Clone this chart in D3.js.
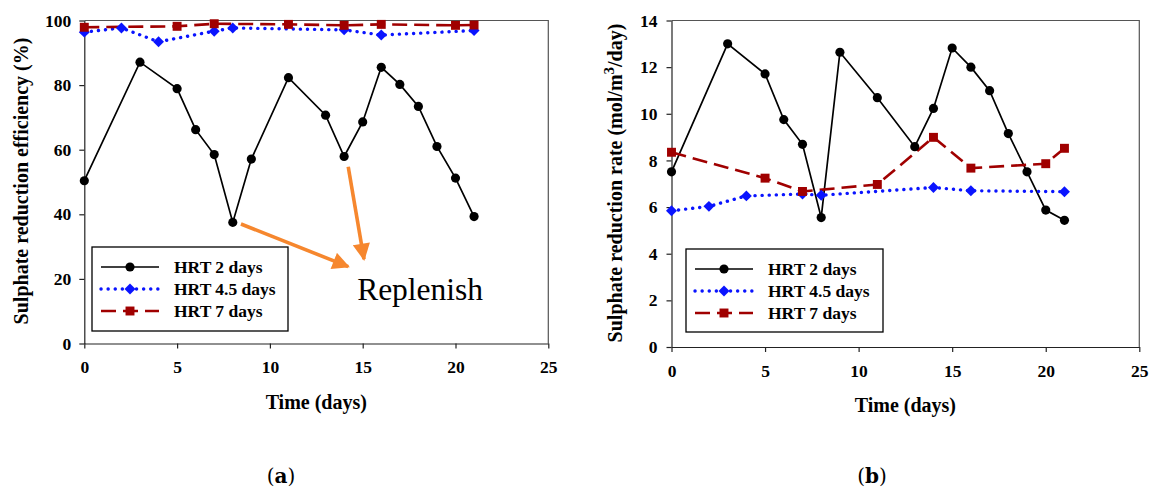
<!DOCTYPE html>
<html>
<head>
<meta charset="utf-8">
<script src="https://cdn.jsdelivr.net/npm/d3@7"></script>
<style>
  html, body { margin: 0; padding: 0; background: #fff; }
  svg { display: block; }
  text { font-family: "Liberation Serif", "Times New Roman", serif; }
</style>
</head>
<body>
<svg id="chart" width="1155" height="492"></svg>
<script>
// sampling days for each series
const daysHRT2 = [0, 3, 5, 6, 7, 8, 9, 11, 13, 14, 15, 16, 17, 18, 19, 20, 21];
const daysHRT45 = [0, 2, 4, 7, 8, 14, 16, 21];
const daysHRT7 = [0, 5, 7, 11, 14, 16, 20, 21];

// (a) sulphate reduction efficiency (%)
const effHRT2 = [50.4, 87.1, 78.9, 66.2, 58.5, 37.5, 57.1, 82.3, 70.7, 57.9, 68.6, 85.5, 80.2, 73.4, 61.0, 51.2, 39.3];
const effHRT45 = [96.4, 97.7, 93.4, 96.7, 97.7, 97.1, 95.5, 96.9];
const effHRT7 = [97.9, 98.2, 99.0, 98.8, 98.5, 98.8, 98.5, 98.6];

// (b) sulphate reduction rate (mol/m3/day)
const rateHRT2 = [7.51, 13.0, 11.71, 9.75, 8.69, 5.55, 12.64, 10.69, 8.59, 10.23, 12.82, 12.0, 10.99, 9.15, 7.51, 5.87, 5.43];
const rateHRT45 = [5.84, 6.03, 6.48, 6.56, 6.51, 6.84, 6.70, 6.66];
const rateHRT7 = [8.35, 7.24, 6.67, 6.97, 8.99, 7.67, 7.86, 8.52];

const seriesNames = ["HRT 2 days", "HRT 4.5 days", "HRT 7 days"];
const xTicks = [0, 5, 10, 15, 20, 25];
const effTicks = [0, 20, 40, 60, 80, 100];
const rateTicks = [0, 2, 4, 6, 8, 10, 12, 14];

// replenish arrows in (day, %) units: [x1, y1, x2, y2]
const replenishArrows = [[8.44, 37.0, 14.22, 23.8], [14.22, 54.7, 15.07, 26.1]];

const styles = [
  { color: "#000", width: 1.7, dash: null, cap: "butt", symbol: d3.symbolCircle, size: 66, rot: 0 },
  { color: "#0a14ff", width: 3.4, dash: "0.1 7", cap: "round", symbol: d3.symbolSquare, size: 60, rot: 45 },
  { color: "#a00000", width: 2.6, dash: "15 7", cap: "butt", symbol: d3.symbolSquare, size: 80, rot: 0 }
];

const svg = d3.select("#chart");

function drawPanel(p) {
  const x = d3.scaleLinear().domain([0, 25]).range([p.left, p.right]);
  const y = d3.scaleLinear().domain(p.yDomain).range([p.bottom, p.top]);
  const g = svg.append("g");

  // frame (top / right)
  g.append("path")
    .attr("d", `M${p.left},${p.top}H${p.right}V${p.bottom}`)
    .attr("fill", "none").attr("stroke", "#555").attr("stroke-width", 1.2);

  const xAxis = g.append("g")
    .attr("transform", `translate(0,${p.bottom})`)
    .call(d3.axisBottom(x).tickValues(xTicks).tickSize(5).tickPadding(12.5).tickSizeOuter(0));
  const yAxis = g.append("g")
    .attr("transform", `translate(${p.left},0)`)
    .call(d3.axisLeft(y).tickValues(p.yTicks).tickSize(5).tickPadding(p.yPad).tickSizeOuter(0));
  [xAxis, yAxis].forEach(a => {
    a.selectAll("path, line").attr("stroke", "#222").attr("stroke-width", 1.2);
    a.selectAll("text").attr("fill", "#000")
      .style("font-family", "Liberation Serif").style("font-weight", "bold").style("font-size", "17.5px");
  });

  // series
  p.series.forEach((s, i) => {
    const st = styles[i];
    const pts = s.days.map((d, k) => [d, s.values[k]]);
    g.append("path")
      .datum(pts)
      .attr("fill", "none")
      .attr("stroke", st.color)
      .attr("stroke-width", st.width)
      .attr("stroke-dasharray", st.dash)
      .attr("stroke-linecap", st.cap)
      .attr("d", d3.line().x(d => x(d[0])).y(d => y(d[1])));
  });
  p.series.forEach((s, i) => {
    const st = styles[i];
    g.selectAll(null)
      .data(s.days.map((d, k) => [d, s.values[k]]))
      .enter().append("path")
      .attr("d", d3.symbol().type(st.symbol).size(st.size))
      .attr("transform", d => `translate(${x(d[0])},${y(d[1])}) rotate(${st.rot})`)
      .attr("fill", st.color);
  });

  // legend
  const lg = g.append("g").attr("transform", `translate(${p.legend[0]},${p.legend[1]})`);
  lg.append("rect").attr("width", p.legend[2]).attr("height", p.legend[3])
    .attr("fill", "#fff").attr("stroke", "#000").attr("stroke-width", 1.3);
  seriesNames.forEach((name, i) => {
    const st = styles[i];
    const ry = 20 + i * 22;
    lg.append("line").attr("x1", 9).attr("x2", 67).attr("y1", ry).attr("y2", ry)
      .attr("stroke", st.color).attr("stroke-width", st.width)
      .attr("stroke-dasharray", st.dash).attr("stroke-linecap", st.cap);
    lg.append("path").attr("d", d3.symbol().type(st.symbol).size(st.size))
      .attr("transform", `translate(38,${ry}) rotate(${st.rot})`).attr("fill", st.color);
    lg.append("text").attr("x", 82).attr("y", ry + 6)
      .style("font-weight", "bold").style("font-size", "17.5px").text(name);
  });

  // axis titles
  g.append("text")
    .attr("x", (p.left + p.right) / 2).attr("y", p.bottom + 65)
    .attr("text-anchor", "middle")
    .style("font-weight", "bold").style("font-size", "20px")
    .text("Time (days)");
  const yt = g.append("text")
    .attr("transform", `translate(${p.yTitleX},${p.yTitleY}) rotate(-90)`)
    .attr("text-anchor", "middle")
    .style("font-weight", "bold").style("font-size", "20px");
  p.yTitle(yt);

  // panel label
  const lab = g.append("text")
    .attr("x", p.labelX).attr("y", 483)
    .attr("text-anchor", "middle")
    .style("font-family", "'DejaVu Serif', serif").style("font-size", "20px");
  lab.append("tspan").text("(");
  lab.append("tspan").style("font-weight", "bold").text(p.label);
  lab.append("tspan").text(")");

  return { g, x, y };
}

// (a)
const a = drawPanel({
  left: 84.3, right: 548.3, top: 20.5, bottom: 343.5,
  yDomain: [0, 100], yTicks: effTicks, yPad: 8,
  series: [
    { days: daysHRT2, values: effHRT2 },
    { days: daysHRT45, values: effHRT45 },
    { days: daysHRT7, values: effHRT7 }
  ],
  legend: [92, 247, 196, 84],
  yTitleX: 27.5, yTitleY: 181,
  yTitle: t => t.text("Sulphate reduction efficiency (%)"),
  labelX: 281, label: "a"
});

// replenish annotation
const arrowColor = "#f6872e";
const defs = svg.append("defs");
defs.append("marker")
  .attr("id", "head").attr("viewBox", "0 0 10 10")
  .attr("refX", 9).attr("refY", 5)
  .attr("markerWidth", 5).attr("markerHeight", 4.8)
  .attr("markerUnits", "strokeWidth")
  .attr("orient", "auto")
  .append("path").attr("d", "M0,0L10,5L0,10z").attr("fill", arrowColor);
a.g.selectAll(null).data(replenishArrows).enter().append("line")
  .attr("x1", d => a.x(d[0])).attr("y1", d => a.y(d[1]))
  .attr("x2", d => a.x(d[2])).attr("y2", d => a.y(d[3]))
  .attr("stroke", arrowColor).attr("stroke-width", 3.6)
  .attr("marker-end", "url(#head)");
a.g.append("text")
  .attr("x", a.x(14.7)).attr("y", a.y(13.4))
  .style("font-size", "31.5px")
  .text("Replenish");

// (b)
drawPanel({
  left: 671.5, right: 1139.3, top: 20.5, bottom: 347,
  yDomain: [0, 14], yTicks: rateTicks, yPad: 9,
  series: [
    { days: daysHRT2, values: rateHRT2 },
    { days: daysHRT45, values: rateHRT45 },
    { days: daysHRT7, values: rateHRT7 }
  ],
  legend: [686, 249, 197, 83],
  yTitleX: 622, yTitleY: 183,
  yTitle: t => {
    t.append("tspan").text("Sulphate reduction rate (mol/m");
    t.append("tspan").attr("dy", -8).style("font-size", "15px").text("3");
    t.append("tspan").attr("dy", 8).text("/day)");
  },
  labelX: 872, label: "b"
});
</script>
</body>
</html>
